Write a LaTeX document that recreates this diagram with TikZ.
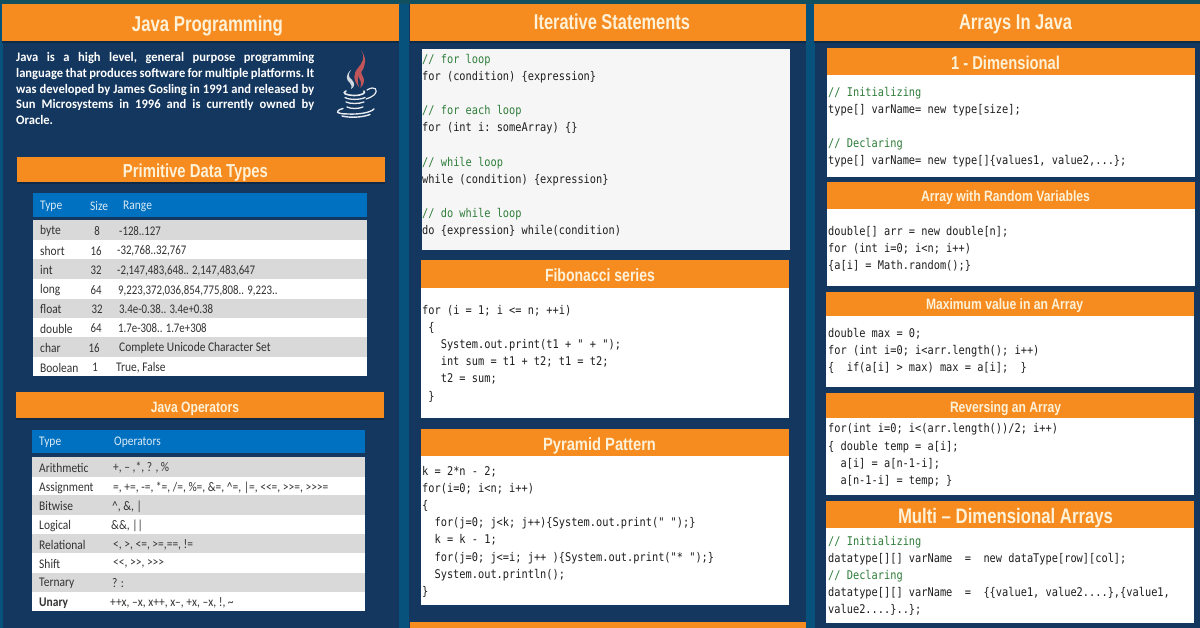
\documentclass[tikz,border=0pt]{standalone}
\usepackage{fontspec}
\usepackage{graphicx}
\setmainfont{Carlito}
\newfontfamily\codefont[FakeStretch=0.86]{DejaVu Sans Mono}
\newfontfamily\headfont[FakeStretch=0.8]{Liberation Sans}
\newfontfamily\introfont[FakeStretch=0.965]{Carlito}
\newfontfamily\tablefont[FakeStretch=0.87]{Carlito}
\newfontfamily\numfont[FakeStretch=0.82]{Carlito}
\definecolor{teal}{HTML}{07527C}
\definecolor{navy}{HTML}{14375F}
\definecolor{topbar}{HTML}{12505F}
\definecolor{orange}{HTML}{F68B1F}
\definecolor{cream}{HTML}{FDF1D8}
\definecolor{tblue}{HTML}{0070C0}
\definecolor{rowgrey}{HTML}{D9D9D9}
\definecolor{codegreen}{HTML}{2E7D3A}
\definecolor{codeink}{HTML}{1E1E1E}
\definecolor{steam}{HTML}{C0555A}
\definecolor{edgedark}{HTML}{0E2A47}
\definecolor{pale}{HTML}{F6F6F6}
\newcommand{\ttl}[3]{\resizebox{#2pt}{\height}{\fontsize{#1}{#1}\selectfont\bfseries #3}}
\newcommand{\cm}[1]{\textcolor{codegreen}{#1}}
\newcommand{\ind}[1]{\hspace*{#1pt}}
\newcommand{\fullline}[1]{\makebox[298pt][s]{#1}}
\tikzset{
  x=1pt,y=-1pt,
  band/.style={fill=orange,draw=none},
  whitebox/.style={fill=white,draw=none},
  headtxt/.style={text=cream,font=\headfont,inner sep=0pt,anchor=base},
  codetxt/.style={anchor=north west,inner sep=0pt,align=left,text=codeink,
    font=\codefont\frenchspacing\fontsize{12}{17.15}\selectfont},
  celltxt/.style={anchor=west,inner sep=0pt,text=black!80,font=\tablefont\fontsize{13.2}{14}\selectfont},
  numtxt/.style={anchor=west,inner sep=0pt,text=black!80,font=\numfont\fontsize{13.2}{14}\selectfont},
  celltop/.style={anchor=west,inner sep=0pt,text=white!85!tblue,font=\tablefont\fontsize{13.2}{14}\selectfont},
  cellmid/.style={numtxt,anchor=center},
  steamline/.style={fill=steam,draw=none},
  cupline/.style={draw=white!90!navy,line cap=round,fill=none}
}
\begin{document}
\begin{tikzpicture}
\useasboundingbox (0,0) rectangle (1200,628);
\fill[teal] (0,0) rectangle (1200,628);
\fill[topbar] (0,0) rectangle (1200,4);
% panels
\fill[navy] (3,4) rectangle (399,628);
\fill[navy] (409,4) rectangle (806,628);
\fill[navy] (815,4) rectangle (1200,628);
% main headers
\fill[edgedark] (2,41) rectangle (399,43);
\fill[edgedark] (410,41) rectangle (806,43);
\fill[edgedark] (814,41) rectangle (1200,43);
\fill[band] (2,4) rectangle (399,41);
\fill[band] (410,4) rectangle (806,41);
\fill[band] (814,4) rectangle (1200,41);
\node[headtxt] (t1) at (207.5,32) {\ttl{21.5}{151}{Java Programming}};
\node[headtxt] (t2) at (612,29.5) {\ttl{21.5}{156}{Iterative Statements}};
\node[headtxt] (t3) at (1015.5,29.5) {\ttl{21.5}{113}{Arrays In Java}};
% intro
\node[anchor=north west,inner sep=0pt,align=left,text=white,
  font=\introfont\bfseries\frenchspacing\fontsize{13}{15.6}\selectfont] (intro) at (16,52.5)
  {\fullline{Java is a high level, general purpose programming}\\
   \fullline{language that produces software for multiple platforms. It}\\
   \fullline{was developed by James Gosling in 1991 and released by}\\
   \fullline{Sun Microsystems in 1996 and is currently owned by}\\
   Oracle.};
% logo
\fill[steamline] (361,50) .. controls (366,58) and (362,63) .. (358,68) .. controls (353,74) and (353,80) .. (359,87) .. controls (357,81) and (357,77) .. (361,72) .. controls (366,66) and (367,58) .. (361,50) -- cycle;
\fill[steamline] (365,62) .. controls (359,68) and (356,73) .. (359,78) .. controls (361,81) and (362,84) .. (360,88) .. controls (365,84) and (365,79) .. (362,75) .. controls (360,71) and (362,67) .. (365,62) -- cycle;
\fill[white!80!navy] (351,70) .. controls (345,75) and (346,80) .. (350,83) .. controls (352,85) and (352,87) .. (351,89) .. controls (355,87) and (355,83) .. (352,80) .. controls (348,77) and (348,74) .. (351,70) -- cycle;
\draw[cupline,line width=1.6pt] (346,91) .. controls (342,93) and (345,95) .. (354,95.5) .. controls (362,95.5) and (366,93) .. (364,91);
\draw[cupline,line width=1.3pt] (345,97.5) .. controls (349,100) and (360,100) .. (365,97.5);
\draw[cupline,line width=1.3pt] (346,102) .. controls (350,104) and (359,104) .. (364,102);
\draw[cupline,line width=1.3pt] (347,107) .. controls (351,109) and (358,109) .. (363,107);
\draw[cupline,line width=1.2pt] (367,90) .. controls (375,85) and (379,90) .. (374,95) .. controls (372,97) and (369,98) .. (366,99);
\draw[cupline,line width=1.4pt] (343,108.5) .. controls (334,111) and (336,114) .. (348,114) .. controls (358,114.5) and (370,113) .. (374,109);
\draw[cupline,line width=1.4pt] (342,116) .. controls (350,118) and (362,117.5) .. (370,114.5);
% primitive data types
\fill[edgedark] (17,182) rectangle (385,184);
\fill[band] (17,157) rectangle (385,182);
\node[headtxt] (t4) at (195.5,178) {\ttl{18.8}{145}{Primitive Data Types}};
\fill[tblue] (33,193) rectangle (367,217);
\fill[white] (33,220) rectangle (367,376);
\foreach \a/\b in {220/240,259/279,299/318,337/357}{\fill[rowgrey] (33,\a) rectangle (367,\b);}
\node[celltop] (h1) at (40,206) {Type};
\node[celltop] (h2) at (90,206) {Size};
\node[celltop] (h3) at (123,206) {Range};
\node[celltxt] (a1) at (40,231) {byte};
\node[celltxt] (a2) at (40,251) {short};
\node[celltxt] (a3) at (40,270.5) {int};
\node[celltxt] (a4) at (40,290.5) {long};
\node[celltxt] (a5) at (40,309.5) {float};
\node[celltxt] (a6) at (40,328.5) {double};
\node[celltxt] (a7) at (40,348) {char};
\node[celltxt] (a8) at (40,367.5) {Boolean};
\node[cellmid] (b1) at (97,231) {8};
\node[cellmid] (b2) at (96,251) {16};
\node[cellmid] (b3) at (96,270.5) {32};
\node[cellmid] (b4) at (96,290.5) {64};
\node[cellmid] (b5) at (97,309.5) {32};
\node[cellmid] (b6) at (96,328.5) {64};
\node[cellmid] (b7) at (94,348) {16};
\node[cellmid] (b8) at (95,367.5) {1};
\node[numtxt] (c1) at (119,231) {-128..127};
\node[numtxt] (c2) at (117,251) {-32,768..32,767};
\node[numtxt] (c3) at (117,270.5) {-2,147,483,648.. 2,147,483,647};
\node[numtxt] (c4) at (118,290.5) {9,223,372,036,854,775,808.. 9,223..};
\node[numtxt] (c5) at (119,309.5) {3.4e-0.38.. 3.4e+0.38};
\node[numtxt] (c6) at (118,328.5) {1.7e-308.. 1.7e+308};
\node[celltxt] (c7) at (119,348) {Complete Unicode Character Set};
\node[celltxt] (c8) at (116,367.5) {True, False};
% java operators
\fill[edgedark] (16,418) rectangle (384,420);
\fill[band] (16,392) rectangle (384,418);
\node[headtxt] (t5) at (195,412) {\ttl{15}{88}{Java Operators}};
\fill[tblue] (32,430) rectangle (365,453);
\fill[white] (32,457) rectangle (365,611);
\foreach \a/\b in {457/477,495/515,534/553,572.5/592}{\fill[rowgrey] (32,\a) rectangle (365,\b);}
\node[celltop] (h4) at (39,442.5) {Type};
\node[celltop] (h5) at (114,442.5) {Operators};
\node[celltxt] (d1) at (39,468) {Arithmetic};
\node[celltxt] (d2) at (39,488) {Assignment};
\node[celltxt] (d3) at (39,506.5) {Bitwise};
\node[celltxt] (d4) at (39,526) {Logical};
\node[celltxt] (d5) at (39,545) {Relational};
\node[celltxt] (d6) at (39,564) {Shift};
\node[celltxt] (d7) at (39,583.5) {Ternary};
\node[celltxt,font=\tablefont\bfseries\fontsize{13.2}{14}\selectfont] (d8) at (39,603) {Unary};
\node[celltxt] (e1) at (113,468) {+, – ,*, ? , \%};
\node[celltxt] (e2) at (113,487.5) {=, +=, -=, *=, /=, \%=, \&=, \^{}=, |=, <<=, >>=, >>>=};
\node[celltxt] (e3) at (112,506.5) {\^{}, \&, |};
\node[celltxt] (e4) at (111,526) {\&\&, ||};
\node[celltxt] (e5) at (113,545) {<, >, <=, >=,==, !=};
\node[celltxt] (e6) at (113,564) {<<, >>, >>>};
\node[celltxt] (e7) at (112,583.5) {? :};
\node[celltxt] (e8) at (110,603) {++x, –x, x++, x–, +x, –x, !, \textasciitilde};
% iterative statements
\fill[pale] (422,49) rectangle (790,250);
\node[codetxt] (i1) at (422,54) {\cm{// for loop}\\for (condition) \{expression\}\\[17.15pt]\cm{// for each loop}\\for (int i: someArray) \{\}\\[17.15pt]\cm{// while loop}\\while (condition) \{expression\}\\[17.15pt]\cm{// do while loop}\\do \{expression\} while(condition)};
% fibonacci
\fill[band] (421,260) rectangle (789,288);
\fill[whitebox] (421,288) rectangle (789,418);
\node[headtxt] (t6) at (600,282) {\ttl{17.7}{110}{Fibonacci series}};
\node[codetxt] (i2) at (422,305) {for (i = 1; i <= n; ++i)\\\ind{6.2}\{\\\ind{18.6}System.out.print(t1 + " + ");\\\ind{18.6}int sum = t1 + t2; t1 = t2;\\\ind{18.6}t2 = sum;\\\ind{6.2}\}};
% pyramid
\fill[band] (421,429) rectangle (789,456);
\fill[whitebox] (421,456) rectangle (789,605);
\node[headtxt] (t7) at (599.5,450) {\ttl{17.7}{113}{Pyramid Pattern}};
\node[codetxt] (i3) at (422,466) {k = 2*n - 2;\\for(i=0; i<n; i++)\\\{\\\ind{12.4}for(j=0; j<k; j++)\{System.out.print(" ");\}\\\ind{12.4}k = k - 1;\\\ind{12.4}for(j=0; j<=i; j++ )\{System.out.print("* ");\}\\\ind{12.4}System.out.println();\\\}};
\fill[band] (410,622) rectangle (806,628);
% arrays
\fill[band] (827,48) rectangle (1195,75);
\fill[whitebox] (827,75) rectangle (1195,177);
\node[headtxt] (t8) at (1005.5,70) {\ttl{18.6}{109}{1 - Dimensional}};
\node[codetxt] (j1) at (828,87) {\cm{// Initializing}\\type[] varName= new type[size];\\[17.15pt]\cm{// Declaring}\\type[] varName= new type[]\{values1, value2,...\};};
\fill[band] (827,182) rectangle (1195,209);
\fill[whitebox] (827,209) rectangle (1195,286);
\node[headtxt] (t9) at (1005.5,202) {\ttl{15}{169}{Array with Random Variables}};
\node[codetxt] (j2) at (828,226) {double[] arr = new double[n];\\for (int i=0; i<n; i++)\\\{a[i] = Math.random();\}};
\fill[band] (826,292) rectangle (1194,316);
\fill[whitebox] (826,316) rectangle (1194,387);
\node[headtxt] (t10) at (1004.5,310) {\ttl{15}{157}{Maximum value in an Array}};
\node[codetxt] (j3) at (828,328) {double max = 0;\\for (int i=0; i<arr.length(); i++)\\\{\ind{12.4}if(a[i] > max) max = a[i];\ind{12.4}\}};
\fill[band] (826,393) rectangle (1194,418);
\fill[whitebox] (826,418) rectangle (1194,495);
\node[headtxt] (t11) at (1005.5,413) {\ttl{15}{111}{Reversing an Array}};
\node[codetxt] (j4) at (828,423.5) {for(int i=0; i<(arr.length())/2; i++)\\\{ double temp = a[i];\\\ind{12.4}a[i] = a[n-1-i];\\\ind{12.4}a[n-1-i] = temp; \}};
\fill[band] (826,501) rectangle (1194,528);
\fill[whitebox] (826,528) rectangle (1194,623);
\node[headtxt] (t12) at (1005.5,523) {\ttl{21}{215}{Multi – Dimensional Arrays}};
\node[codetxt] (j5) at (828,536) {\cm{// Initializing}\\datatype[][] varName\ \ =\ \ new dataType[row][col];\\\cm{// Declaring}\\datatype[][] varName\ \ =\ \ \{\{value1, value2....\},\{value1,\\value2....\}..\};};
\end{tikzpicture}
\end{document}
